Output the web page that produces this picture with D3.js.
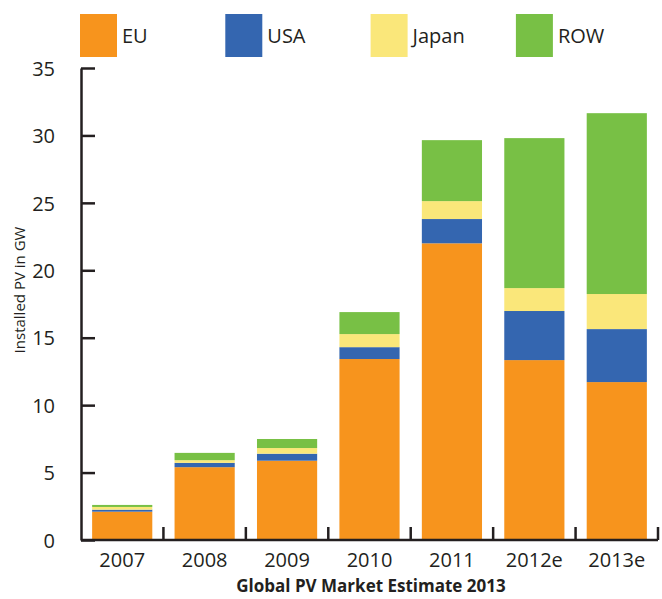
<!DOCTYPE html>
<html>
<head>
<meta charset="utf-8">
<script src="https://cdn.jsdelivr.net/npm/d3@7"></script>
<style>
  body { margin: 0; background: #fff; }
  svg text { font-family: "Open Sans", "Noto Sans", sans-serif; fill: #231f20; }
</style>
</head>
<body>
<div id="chart"></div>
<script>
const years = ["2007", "2008", "2009", "2010", "2011", "2012e", "2013e"];
const seriesNames = ["EU", "USA", "Japan", "ROW"];
const eu    = [2.1, 5.4, 5.88, 13.42, 22.0, 13.34, 11.71];
const usa   = [0.15, 0.32, 0.52, 0.88, 1.8, 3.64, 3.93];
const japan = [0.2, 0.2, 0.42, 0.97, 1.33, 1.7, 2.6];
const row   = [0.15, 0.54, 0.67, 1.63, 4.52, 11.12, 13.41];
const colors = ["#f7941d", "#3466b0", "#fae77a", "#78c045"];
const yTicks = [0, 5, 10, 15, 20, 25, 30, 35];

const width = 662, height = 599;
const margin = { top: 68, right: 4, bottom: 59, left: 81 };
const innerW = width - margin.left - margin.right;
const innerH = height - margin.top - margin.bottom;

const svg = d3.select("#chart")
    .append("svg")
    .attr("width", width)
    .attr("height", height);

const g = svg.append("g")
    .attr("transform", `translate(${margin.left}, ${margin.top})`);

// build rows for the stack
const table = years.map(function(y, i) {
    return { year: y, EU: eu[i], USA: usa[i], Japan: japan[i], ROW: row[i] };
});
const stacked = d3.stack().keys(seriesNames)(table);

const x = d3.scaleBand()
    .domain(years)
    .range([0, 577])
    .paddingInner(0.27)
    .paddingOuter(0.135);

const y = d3.scaleLinear()
    .domain([0, 35])
    .range([innerH, 0]);

// bars
g.selectAll(".layer")
    .data(stacked)
    .enter()
    .append("g")
    .attr("class", "layer")
    .attr("fill", function(d, i) { return colors[i]; })
    .selectAll("rect")
    .data(function(d) { return d; })
    .enter()
    .append("rect")
    .attr("x", function(d) { return x(d.data.year); })
    .attr("y", function(d) { return y(d[1]); })
    .attr("width", x.bandwidth())
    .attr("height", function(d) { return y(d[0]) - y(d[1]); });

// y axis: ticks point inward
const yAxis = d3.axisLeft(y)
    .tickValues(yTicks)
    .tickSize(-14)
    .tickPadding(26)
    .tickSizeOuter(0);

const yG = g.append("g").attr("class", "y-axis").call(yAxis);
yG.select(".domain").attr("stroke", "#231f20").attr("stroke-width", 2.5);
yG.selectAll(".tick line").attr("stroke", "#231f20").attr("stroke-width", 2.5);
yG.selectAll(".tick text")
    .style("font-size", "20px")
    .attr("dy", "0.36em");

// x axis: labels centered in bands, ticks at band boundaries pointing up
const xG = g.append("g")
    .attr("class", "x-axis")
    .attr("transform", `translate(0, ${innerH})`);

xG.append("line")
    .attr("x1", 0)
    .attr("x2", x.range()[1])
    .attr("stroke", "#231f20")
    .attr("stroke-width", 2.5);

const step = x.step();
xG.selectAll(".sep")
    .data(years)
    .enter()
    .append("line")
    .attr("class", "sep")
    .attr("x1", function(d) { return x(d) - x.paddingOuter() * step + step; })
    .attr("x2", function(d) { return x(d) - x.paddingOuter() * step + step; })
    .attr("y1", 0)
    .attr("y2", -13)
    .attr("stroke", "#231f20")
    .attr("stroke-width", 2.5);

xG.selectAll(".lbl")
    .data(years)
    .enter()
    .append("text")
    .attr("class", "lbl")
    .attr("x", function(d) { return x(d) + x.bandwidth() / 2; })
    .attr("y", 27)
    .attr("text-anchor", "middle")
    .style("font-size", "20px")
    .text(function(d) { return d; });

// axis titles
svg.append("text")
    .attr("transform", "translate(25, 290) rotate(-90)")
    .attr("text-anchor", "middle")
    .style("font-size", "15px")
    .text("Installed PV in GW");

svg.append("text")
    .attr("x", 371)
    .attr("y", 592)
    .attr("text-anchor", "middle")
    .style("font-size", "17px")
    .style("font-weight", "bold")
    .text("Global PV Market Estimate 2013");

// legend
const legend = svg.append("g").attr("class", "legend");
const item = legend.selectAll(".item")
    .data(seriesNames)
    .enter()
    .append("g")
    .attr("class", "item")
    .attr("transform", function(d, i) { return `translate(${80 + i * 145.3}, 14)`; });

item.append("rect")
    .attr("width", 37)
    .attr("height", 43)
    .attr("fill", function(d, i) { return colors[i]; });

item.append("text")
    .attr("x", 42)
    .attr("y", 29)
    .style("font-size", "20px")
    .text(function(d) { return d; });
</script>
</body>
</html>
